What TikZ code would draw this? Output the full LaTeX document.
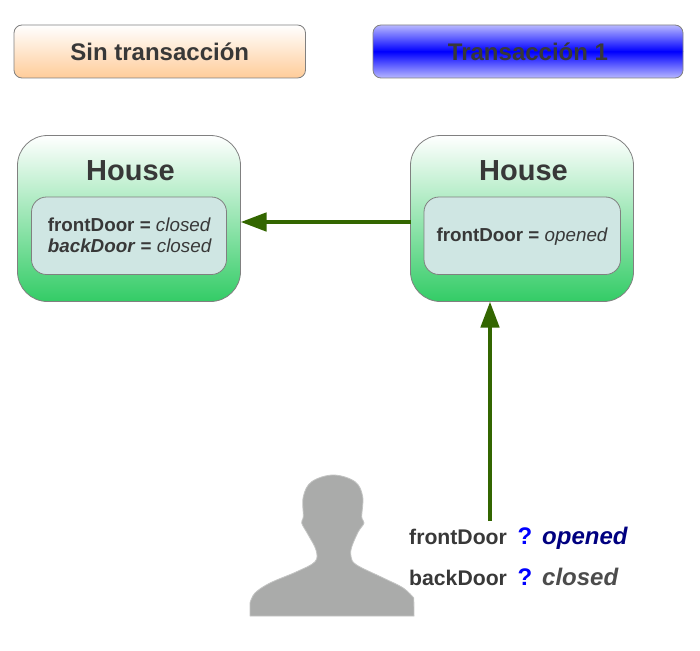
\documentclass[tikz,border=0pt]{standalone}
\usepackage{fontspec}
\setmainfont{Liberation Sans}
\definecolor{txt}{HTML}{383838}
\definecolor{edge}{HTML}{808080}
\definecolor{arrowgreen}{HTML}{336600}
\definecolor{grn}{HTML}{33CC66}
\definecolor{peach}{HTML}{FFCC99}
\definecolor{panefill}{HTML}{CFE6E3}
\definecolor{personfill}{HTML}{AAABAA}
\definecolor{paleblue}{HTML}{B8B8FF}
\usetikzlibrary{arrows.meta}
\tikzset{
  base/.style={draw=edge,line width=0.8pt,inner sep=0pt,outer sep=0pt,text=txt},
  banner/.style={base,rounded corners=8pt,minimum height=53pt,font=\fontsize{24}{28}\selectfont\bfseries},
  house/.style={base,rounded corners=30pt,minimum width=223pt,minimum height=166pt,top color=white,bottom color=grn},
  panebox/.style={base,rounded corners=15pt,minimum height=77.5pt,fill=panefill,align=left,font=\fontsize{18.8}{21}\selectfont},
  title/.style={text=txt,font=\fontsize{29}{32}\selectfont\bfseries,inner sep=0pt},
  link/.style={draw=arrowgreen,line width=4.5pt,-{Triangle[length=26pt,width=18pt,fill=arrowgreen]}},
  lbl/.style={text=txt,inner sep=0pt,anchor=base west,font=\fontsize{21.2}{24}\selectfont\bfseries},
  qmark/.style={text=blue,inner sep=0pt,anchor=base west,font=\fontsize{24}{28}\selectfont\bfseries},
  val/.style={inner sep=0pt,anchor=base west,font=\fontsize{24}{28}\selectfont\bfseries\itshape},
}
\begin{document}
\begin{tikzpicture}[x=1pt,y=-1pt]
\useasboundingbox (0,0) rectangle (700,650);
\node[banner,minimum width=291.5pt,top color=white,bottom color=peach] (b1) at (159.75,51.5) {Sin transacción};
\begin{scope}
\clip[rounded corners=8pt] (373,25) rectangle (683,78);
\shade[top color=paleblue,bottom color=blue] (373,25) rectangle (683,51.5);
\shade[top color=blue,bottom color=paleblue] (373,51.5) rectangle (683,78);
\end{scope}
\node[banner,minimum width=310pt] (b2) at (528,51.5) {Transacción 1};

\node[house] (hl) at (129,218.5) {};
\node[house] (hr) at (522,218.5) {};
\node[title] (tl) at (130.5,170.5) {House};
\node[title] (tr) at (523.5,170.5) {House};
\node[panebox,minimum width=195pt] (pl) at (129,235.75) {\hspace*{1.6pt}\textbf{frontDoor =} \textit{closed}\\\hspace*{1.6pt}\textbf{\textit{backDoor}} \textbf{=} \textit{closed}};
\node[panebox,minimum width=196.5pt] (pr) at (522.25,235.75) {\raisebox{-6pt}[0pt][0pt]{\textbf{frontDoor =} \textit{opened}}};

\coordinate (hy) at (320,222);
\coordinate (qs) at (490,521);
\draw[link] (hr.west |- hy) -- (hl.east |- hy);
\draw[link] (qs) -- (qs |- hr.south);

\filldraw[fill=personfill,draw=personfill!70!white,line width=0.8pt,line join=round]
  plot[smooth,tension=0.6] coordinates {(413.8,598) (403.3,588) (383.3,578) (356.7,565) (351,556.7) (351.7,547) (358.3,531.7) (364,523) (361.7,516.7) (362.7,496.7) (355,481.7) (333.3,475) (311.7,481.7) (303.3,496.7) (303.3,516.7) (301.7,523) (308.3,535) (316,550) (315,561.7) (296.7,571.7) (270,583) (255,593) (250,603)} -- (250,616) -- (414,616) -- cycle;

\node[lbl] (fd) at (409,544) {frontDoor};
\node[qmark] (q1) at (517.5,544) {?};
\node[val,text=blue!50!black] (v1) at (542,544) {opened};
\node[lbl] (bd) at (409,585) {backDoor};
\node[qmark] (q2) at (517.5,585) {?};
\node[val,text=txt!90!white] (v2) at (542,585) {closed};
\end{tikzpicture}
\end{document}
